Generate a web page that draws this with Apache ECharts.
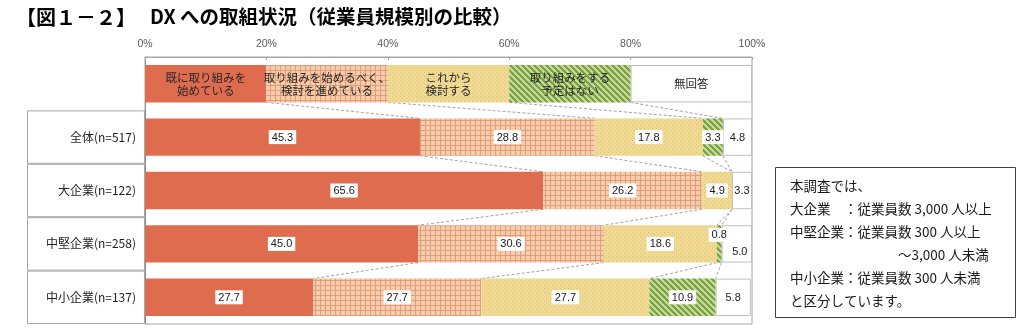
<!DOCTYPE html>
<html>
<head>
<meta charset="utf-8">
<script src="https://cdn.jsdelivr.net/npm/echarts@6/dist/echarts.min.js"></script>
<style>
html,body{margin:0;padding:0;background:#fff;}
#chart{width:1024px;height:336px;}
</style>
</head>
<body>
<div id="chart"></div>
<script>
// ---- data ----
const categories = ['', '全体(n=517)', '大企業(n=122)', '中堅企業(n=258)', '中小企業(n=137)'];
const seriesNames = ['既に取り組みを始めている', '取り組みを始めるべく、検討を進めている', 'これから検討する', '取り組みをする予定はない', '無回答'];
const legendLabels = ['既に取り組みを\n始めている', '取り組みを始めるべく、\n検討を進めている', 'これから\n検討する', '取り組みをする\n予定はない', '無回答'];
const legendRowValues = [20, 20, 20, 20, 20];
const already = [45.3, 65.6, 45.0, 27.7];
const considering = [28.8, 26.2, 30.6, 27.7];
const fromNow = [17.8, 4.9, 18.6, 27.7];
const noPlan = [3.3, 0, 0.8, 10.9];
const noAnswer = [4.8, 3.3, 5.0, 5.8];
const xTicks = [0, 20, 40, 60, 80, 100];
const noteText = '本調査では、\n大企業　：従業員数 3,000 人以上\n中堅企業：従業員数 300 人以上\n　　　　　　　　～3,000 人未満\n中小企業：従業員数 300 人未満\nと区分しています。';
const titleFigure = '【図１－２】';
const titleText = 'DX への取組状況（従業員規模別の比較）';

// ---- patterns ----
function makePattern(w, h, painter) {
  const c = document.createElement('canvas');
  c.width = w; c.height = h;
  const ctx = c.getContext('2d');
  painter(ctx, w, h);
  return { image: c, repeat: 'repeat' };
}
const peachGrid = makePattern(5, 5, (ctx, w, h) => {
  ctx.fillStyle = '#F7CCA6'; ctx.fillRect(0, 0, w, h);
  ctx.fillStyle = '#DE9C80'; ctx.fillRect(0, 0, w, 1); ctx.fillRect(0, 0, 1, h);
});
const yellowDots = makePattern(4, 4, (ctx, w, h) => {
  ctx.fillStyle = '#F0DA94'; ctx.fillRect(0, 0, w, h);
  ctx.fillStyle = '#DCC070';
  ctx.fillRect(0, 0, 1, 1); ctx.fillRect(2, 2, 1, 1);
});
const greenStripes = makePattern(6, 6, (ctx, w, h) => {
  const img = ctx.createImageData(w, h);
  for (let y = 0; y < h; y++) for (let x = 0; x < w; x++) {
    const d = ((x - y) % 6 + 6) % 6;
    const dark = d < 3;
    const i = (y * w + x) * 4;
    img.data[i] = dark ? 0x7B : 0xC4;
    img.data[i + 1] = dark ? 0xA2 : 0xDA;
    img.data[i + 2] = dark ? 0x3F : 0x9C;
    img.data[i + 3] = 255;
  }
  ctx.putImageData(img, 0, 0);
});
const fills = ['#E06C4F', peachGrid, yellowDots, greenStripes, '#ffffff'];

// ---- build ----
const valueSets = [already, considering, fromNow, noPlan, noAnswer];
const numFont = "'Liberation Sans Narrow','Liberation Sans',sans-serif";
const cjkFont = "'Noto Sans CJK JP','Liberation Sans Narrow',sans-serif";

const barSeries = valueSets.map((vals, s) => {
  const data = [{ value: legendRowValues[s] }];
  vals.forEach((v, i) => {
    const item = { value: v };
    if (v === 0) item.label = { show: false };
    if (s === 3 && i === 2) item.label = { offset: [0, -9] };
    if (s === 4 && i === 2) item.label = { offset: [3, 8] };
    data.push(item);
  });
  return {
    name: seriesNames[s],
    type: 'bar',
    stack: 'total',
    barWidth: '70%',
    data: data,
    itemStyle: s === 4 ? { color: '#fff', borderColor: '#bfbfbf', borderWidth: 1 } : { color: fills[s] },
    label: {
      show: true,
      position: 'inside',
      formatter: p => p.dataIndex === 0 ? '{lg|' + legendLabels[s] + '}' : (s === 4 ? '{n|' : '{v|') + p.value.toFixed(1) + '}',
      rich: {
        lg: { fontFamily: cjkFont, fontSize: 11.5, lineHeight: 13, color: '#262626', align: 'center' },
        v: { fontFamily: numFont, fontSize: 11, color: '#1a1a1a', backgroundColor: '#fff', padding: [2, 3, 1, 3] },
        n: { fontFamily: numFont, fontSize: 11, color: '#1a1a1a', padding: [2, 3, 1, 3] }
      }
    },
    silent: true
  };
});

// series lines (connect cumulative boundaries between adjacent rows)
const rows = [legendRowValues].concat(already.map((_, i) => valueSets.map(vs => vs[i])));
const cums = rows.map(r => { let c = 0; return r.map(v => (c += v)); });
const lineData = [];
for (let r = 0; r < cums.length - 1; r++) {
  for (let k = 0; k < 4; k++) lineData.push([cums[r][k], cums[r + 1][k], r]);
}

const option = {
  animation: false,
  title: {
    text: '{a|' + titleFigure + '}{b|' + titleText + '}', left: 16, top: 7, padding: 0,
    textStyle: {
      rich: {
        a: { fontFamily: cjkFont, fontSize: 20, fontWeight: 'bold', color: '#000' },
        b: { fontFamily: cjkFont, fontSize: 19.5, fontWeight: 'bold', color: '#000', padding: [0, 0, 0, 14] }
      }
    }
  },
  grid: [
    { left: 145, right: 272, top: 57, bottom: 12, show: true, borderColor: '#a6a6a6', borderWidth: 1, backgroundColor: 'transparent' },
    { left: 27, width: 118, top: 57, bottom: 12 }
  ],
  xAxis: [
    {
      type: 'value', position: 'top', min: xTicks[0], max: xTicks[xTicks.length - 1], interval: 20,
      axisLabel: { formatter: '{value}%', color: '#595959', fontSize: 10.5, fontFamily: numFont, margin: 7 },
      axisLine: { show: true, lineStyle: { color: '#a6a6a6' } },
      axisTick: { show: true, inside: true, length: 3, lineStyle: { color: '#a6a6a6' } },
      splitLine: { show: false }
    },
    { gridIndex: 1, type: 'value', min: 0, max: 1, show: false }
  ],
  yAxis: [
    {
      type: 'category', data: categories, inverse: true,
      axisLabel: { show: false },
      axisLine: { show: true, lineStyle: { color: '#8c8c8c' } },
      axisTick: { show: false }
    },
    { gridIndex: 1, type: 'category', data: categories, inverse: true, show: false }
  ],
  series: [
    {
      type: 'bar', xAxisIndex: 1, yAxisIndex: 1, barWidth: '100%', silent: true,
      data: categories.map((c, i) => i === 0 ? '-' : 1),
      itemStyle: { color: '#fff', borderColor: '#a6a6a6', borderWidth: 1 },
      label: { show: true, position: 'insideRight', distance: 9, formatter: p => p.name, fontFamily: cjkFont, fontSize: 12, color: '#1f1f1f' }
    },
    ...barSeries,
    {
      type: 'custom', silent: true, z: 1,
      data: lineData,
      encode: { x: [0, 1], y: 2 },
      renderItem: (params, api) => {
        const r = api.value(2);
        const p1 = api.coord([api.value(0), r]);
        const p2 = api.coord([api.value(1), r + 1]);
        const h = api.size([0, 1])[1] * 0.35;
        return {
          type: 'line',
          shape: { x1: p1[0], y1: p1[1] + h, x2: p2[0], y2: p2[1] - h },
          style: { stroke: '#8a8a8a', lineWidth: 0.8, lineDash: [3, 2] }
        };
      }
    }
  ],
  graphic: [
    { type: 'rect', left: 775, top: 167, shape: { width: 240, height: 150 }, style: { fill: '#fff', stroke: '#404040', lineWidth: 1 } },
    { type: 'text', left: 790, top: 174, style: { text: noteText, fontFamily: cjkFont, fontSize: 13.5, lineHeight: 23, fill: '#1a1a1a' } }
  ]
};
const chart = echarts.init(document.getElementById('chart'), null, { renderer: 'canvas' });
chart.setOption(option);
</script>
</body>
</html>
